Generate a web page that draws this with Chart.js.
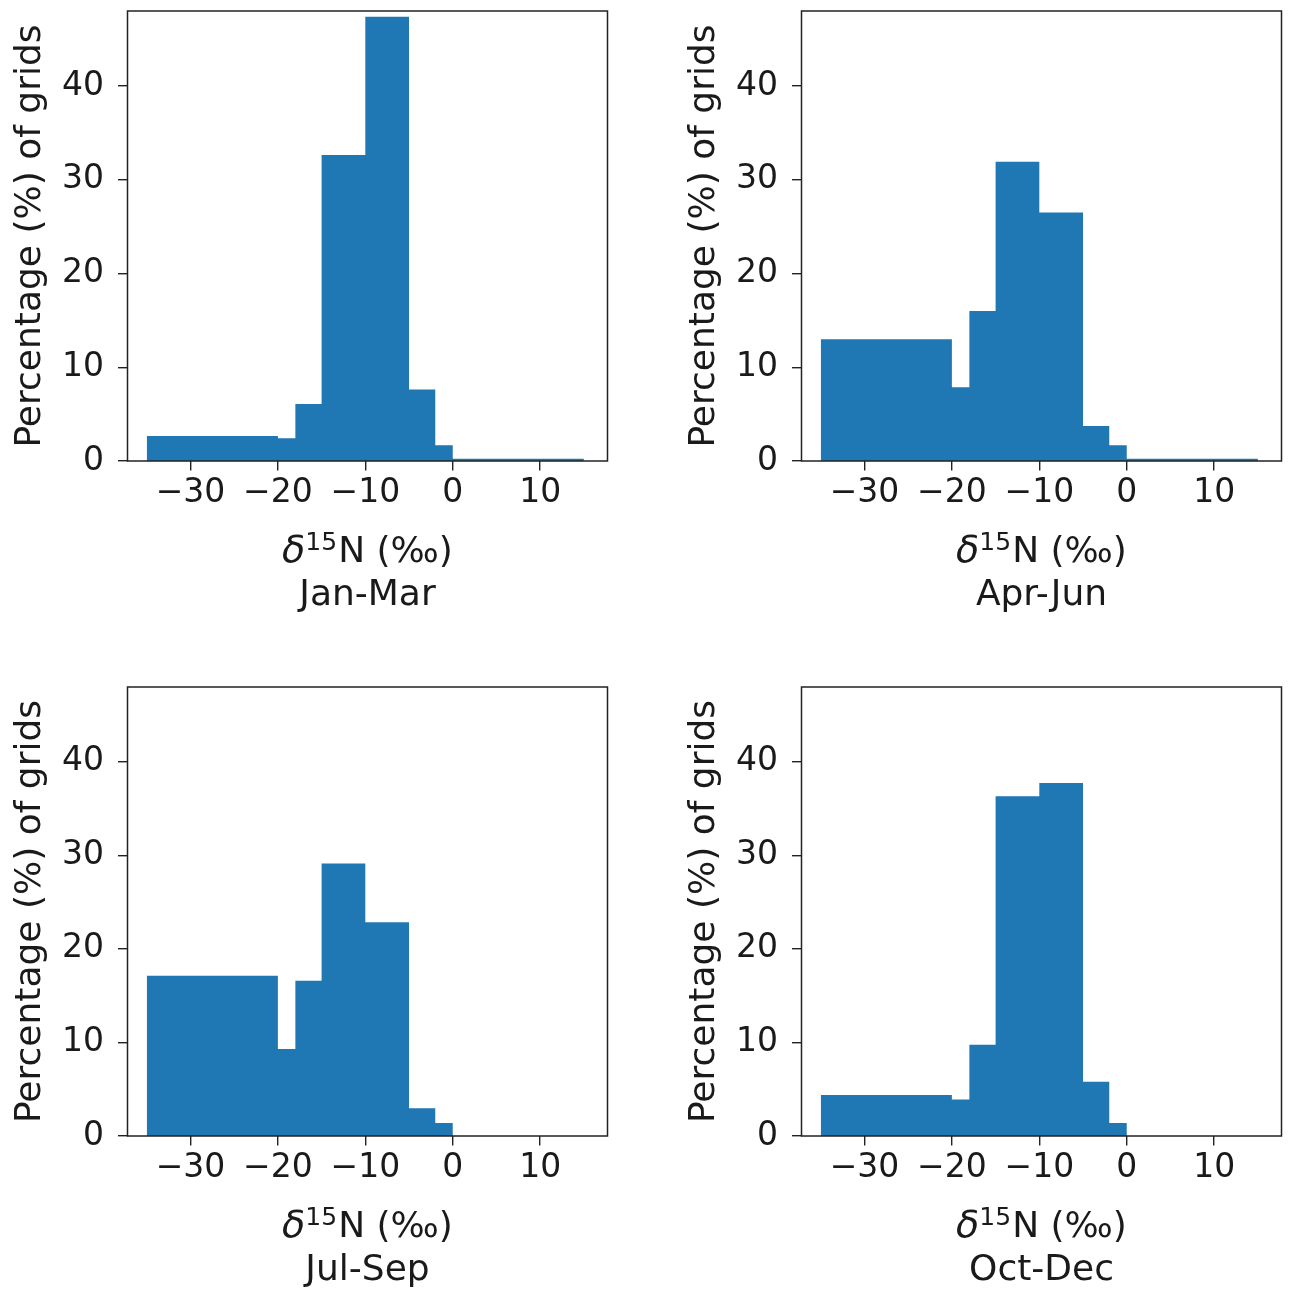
<!DOCTYPE html>
<html>
<head>
<meta charset="utf-8">
<script src="https://cdn.jsdelivr.net/npm/chart.js@4.4.1/dist/chart.umd.min.js"></script>
<style>
  html, body { margin: 0; padding: 0; background: #fff; overflow: hidden; }
  #wrap { position: relative; width: 1291px; height: 1299px; }
  #wrap canvas { position: absolute; }
</style>
</head>
<body>
<div id="wrap"></div>
<script>
/* ─── Data ────────────────────────────────────────────── */
const binEdges = [-35, -20, -18, -15, -10, -5, -2, 0, 15];
const seasons  = ['Jan-Mar', 'Apr-Jun', 'Jul-Sep', 'Oct-Dec'];
const janMar   = [2.67, 2.42, 6.08, 32.64, 47.4, 7.64, 1.67, 0.25];
const aprJun   = [12.98, 7.86, 16.0, 31.93, 26.52, 3.73, 1.67, 0.25];
const julSep   = [17.12, 9.3, 16.59, 29.14, 22.85, 2.97, 1.4, 0];
const octDec   = [4.39, 3.89, 9.76, 36.32, 37.74, 5.81, 1.4, 0];
const xTicks   = [-30, -20, -10, 0, 10];
const yTicks   = [0, 10, 20, 30, 40];
const yTitle   = 'Percentage (%) of grids';
const xSymbol  = ['δ', '15', 'N (‰)'];   // italic delta, superscript, rest

/* ─── Style ───────────────────────────────────────────── */
Chart.defaults.font.family = "'DejaVu Sans'";
Chart.defaults.color = '#000';
const BLUE = '#1f77b4';
const INK = '#1a1a1a';
const FAMILY = "'DejaVu Sans'";

/* ─── Plugins ─────────────────────────────────────────── */
const frame = {
  id: 'frame',
  afterDatasetsDraw(chart) {
    const { ctx, chartArea: a } = chart;
    ctx.save();
    ctx.strokeStyle = '#222';
    ctx.lineWidth = 1.5;
    ctx.strokeRect(a.left, a.top, a.right - a.left, a.bottom - a.top);
    ctx.restore();
  }
};

const xLabel = {
  id: 'xlabel',
  afterDraw(chart, args, opts) {
    const { ctx, chartArea: a } = chart;
    const cx = (a.left + a.right) / 2;
    const y1 = a.bottom + 101, y2 = a.bottom + 144;
    const fIt = 'italic 38px ' + FAMILY, fSup = '25px ' + FAMILY, fMain = '36px ' + FAMILY;
    const gap1 = 0, gap2 = 1;
    ctx.save();
    ctx.fillStyle = INK;
    ctx.textBaseline = 'alphabetic';
    ctx.textAlign = 'left';
    ctx.font = fIt;   const w1 = ctx.measureText(xSymbol[0]).width;
    ctx.font = fSup;  const w2 = ctx.measureText(xSymbol[1]).width;
    ctx.font = fMain; const w3 = ctx.measureText(xSymbol[2]).width;
    let x = cx - (w1 + gap1 + w2 + gap2 + w3) / 2;
    ctx.font = fIt;   ctx.fillText(xSymbol[0], x, y1); x += w1 + gap1;
    ctx.font = fSup;  ctx.fillText(xSymbol[1], x, y1 - 12); x += w2 + gap2;
    ctx.font = fMain; ctx.fillText(xSymbol[2], x, y1);
    ctx.textAlign = 'center';
    ctx.fillText(opts.season, cx, y2);
    ctx.restore();
  }
};

/* ─── Panels ──────────────────────────────────────────── */
const CW = 617, CH = 620;
const panels = [
  { vals: janMar, left: 0,   top: 0,   h: 450 },
  { vals: aprJun, left: 674, top: 0,   h: 450 },
  { vals: julSep, left: 0,   top: 676, h: 449 },
  { vals: octDec, left: 674, top: 676, h: 449 },
];
const fmt = v => (v < 0 ? '\u2212' + Math.abs(v) : String(v));
const noPad = s => { s.paddingTop = 0; s.paddingBottom = 0; s.paddingLeft = 0; s.paddingRight = 0; };

panels.forEach((p, i) => {
  const cv = document.createElement('canvas');
  cv.width = CW; cv.height = CH;
  cv.style.left = p.left + 'px'; cv.style.top = p.top + 'px';
  cv.style.width = CW + 'px'; cv.style.height = CH + 'px';
  document.getElementById('wrap').appendChild(cv);

  // step outline: each left edge carries its bin value, last edge closes the final bin
  const pts = binEdges.map((e, k) => ({ x: e, y: p.vals[Math.min(k, p.vals.length - 1)] }));

  new Chart(cv, {
    type: 'line',
    data: {
      datasets: [{
        data: pts,
        stepped: 'before',
        fill: 'origin',
        backgroundColor: BLUE,
        borderColor: 'rgba(0,0,0,0)',
        borderWidth: 0,
        pointRadius: 0,
      }]
    },
    options: {
      responsive: false, animation: false, events: [],
      layout: { padding: { left: 0, top: 11, right: 9.5, bottom: 0 } },
      plugins: { legend: { display: false }, tooltip: { enabled: false }, xlabel: { season: seasons[i] } },
      scales: {
        x: {
          type: 'linear', min: -37.2, max: 17.7,
          afterBuildTicks: s => { s.ticks = xTicks.map(v => ({ value: v })); },
          afterFit: s => { s.height = CH - 11 - p.h; noPad(s); },
          grid: { drawOnChartArea: false, color: '#222', lineWidth: 1.4, tickLength: 9.5 },
          border: { display: false },
          ticks: { padding: 3, color: INK, font: { size: 33 }, callback: fmt, maxRotation: 0, autoSkip: false },
        },
        y: {
          type: 'linear', min: 0, max: 48,
          afterBuildTicks: s => { s.ticks = yTicks.map(v => ({ value: v })); },
          afterFit: s => { s.width = 127.5; noPad(s); },
          grid: { drawOnChartArea: false, color: '#222', lineWidth: 1.4, tickLength: 9.5 },
          border: { display: false },
          ticks: { padding: 14, color: INK, font: { size: 33 }, callback: fmt },
          title: { display: true, text: yTitle, color: INK, font: { size: 36 }, padding: { top: 9, bottom: 0 } },
        }
      }
    },
    plugins: [frame, xLabel]
  });
});
</script>
</body>
</html>
